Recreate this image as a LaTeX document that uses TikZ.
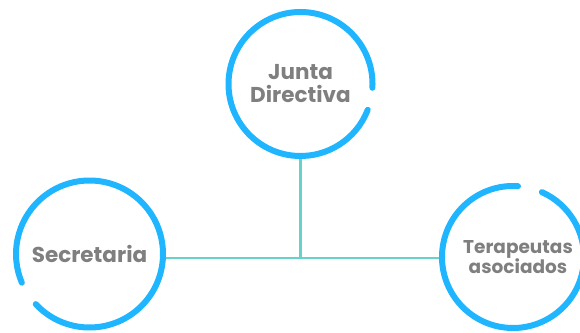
\documentclass[tikz,border=0pt]{standalone}
\usepackage{fontspec}
\setmainfont{Poppins}
\usepackage{tikz}
\usetikzlibrary{calc}
\definecolor{ringblue}{HTML}{1FB5FF}
\definecolor{linkteal}{HTML}{66D3CB}
\definecolor{textgray}{HTML}{7F7F7F}

\begin{document}
\begin{tikzpicture}[x=1pt,y=1pt,
    ring/.style={draw=ringblue, line width=6pt, line cap=round},
    link/.style={draw=linkteal, line width=2.2pt},
    role/.style={circle, inner sep=0pt, text=textgray, font=\bfseries, align=center}]
  \useasboundingbox (0,0) rectangle (580,332);
  \clip (0,0) rectangle (580,332);

  \node[role, minimum size=144pt, font=\bfseries\fontsize{21.5}{23}\selectfont] (junta) at (300.5,248) {Junta\\Directiva};
  \node[role, minimum size=147pt, font=\bfseries\fontsize{21.5}{23}\selectfont] (sec)   at (89.5,78)   {Secretaria};
  \node[role, minimum size=142pt, font=\bfseries\fontsize{18.5}{20}\selectfont] (tera)  at (513,75)    {\hspace*{10pt}Terapeutas\\\hspace*{10pt}asociados};
  \coordinate (hub) at ($(junta |- sec)+(0,-4)$);

  % connectors
  \draw[link] (sec.east |- hub) -- (tera.west |- hub);
  \draw[link] (junta.south) -- (hub);

  % rings
  \draw[ring] (junta.center) ++(-3:72) arc[start angle=-3, end angle=339, radius=72];
  \draw[ring] (sec.center) ++(223:73.5) arc[start angle=223, end angle=563, radius=73.5];
  \draw[ring] (tera.center) ++(86:71) arc[start angle=86, end angle=426, radius=71];
\end{tikzpicture}
\end{document}
